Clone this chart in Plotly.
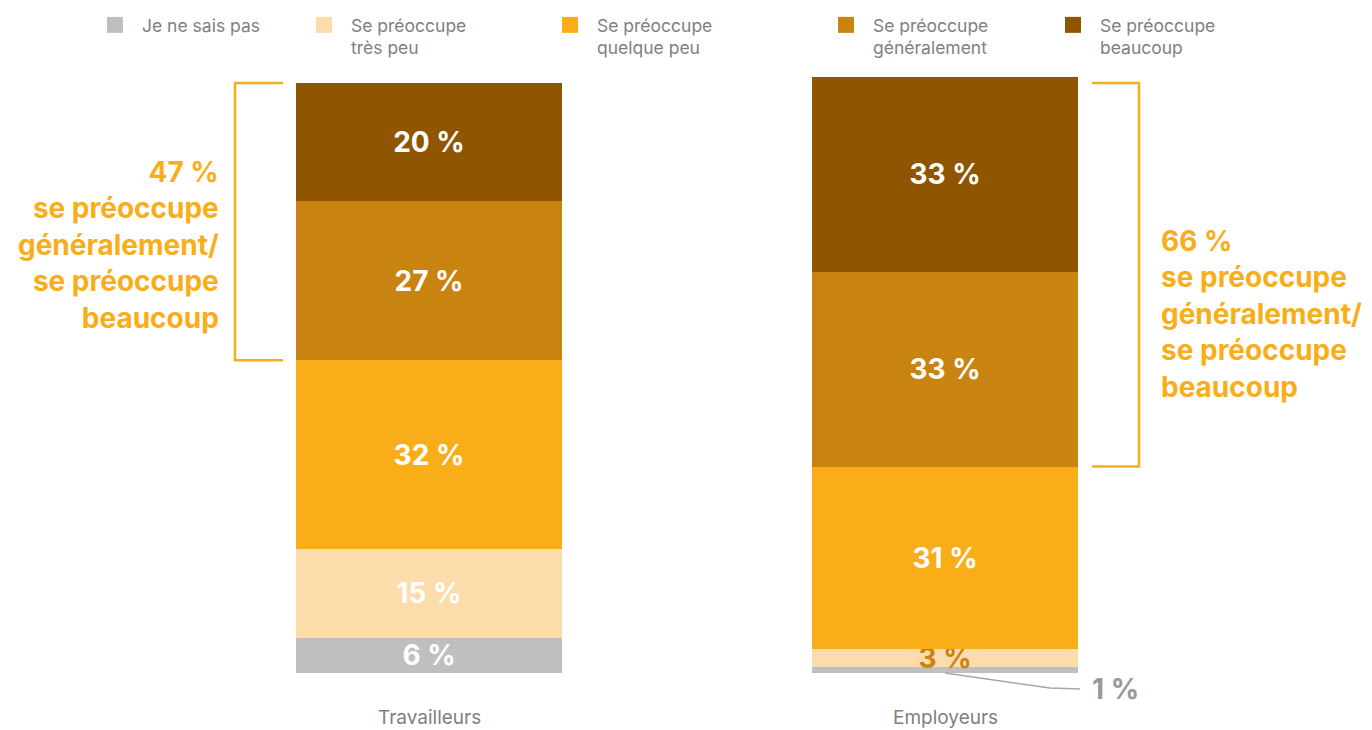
import plotly.graph_objects as go

categories = ["Travailleurs", "Employeurs"]
series_names = ["Je ne sais pas", "Se préoccupe<br>très peu", "Se préoccupe<br>quelque peu",
                "Se préoccupe<br>généralement", "Se préoccupe<br>beaucoup"]
ne_sais_pas = [6, 1]
tres_peu = [15, 3]
quelque_peu = [32, 31]
generalement = [27, 33]
beaucoup = [20, 33]
bracket_totals = ["47 %", "66 %"]

colors = ["#BFBFBF", "#FDDCAB", "#F9AE19", "#C98311", "#8F5500"]
series = [ne_sais_pas, tres_peu, quelque_peu, generalement, beaucoup]
text_colors = [["white", "white"], ["white", "#C98311"], ["white", "white"],
               ["white", "white"], ["white", "white"]]

FONT = "Inter"
ORANGE = "#F9AE19"
GREY = "#808080"

# pixel mapping helpers (figure 1372x730, no margins)
W, H = 1372, 730
PX_PER_X = 516.0
X0_PX = 429.0
Y0_PX = 673.0
PX_PER_Y = 5.9
xr = [(0 - X0_PX) / PX_PER_X, (W - X0_PX) / PX_PER_X]
yr = [(Y0_PX - H) / PX_PER_Y, (Y0_PX - 0) / PX_PER_Y]

# legend item left edges (pixels)
legend_x_px = [88, 297, 543, 819, 1046]
legend_ids = ["legend", "legend2", "legend3", "legend4", "legend5"]

xpos = [0, 1]
fig = go.Figure()
for name, vals, col, tcol, lid in zip(series_names, series, colors, text_colors, legend_ids):
    txt = [f"{v} %" for v in vals]
    if vals is ne_sais_pas:
        txt = [txt[0], ""]
    fig.add_trace(go.Bar(
        x=xpos, y=vals, name=name, marker=dict(color=col, line=dict(width=0)),
        width=0.514, text=txt, textposition="inside", insidetextanchor="middle",
        textangle=0, textfont=dict(family=FONT, size=28, color=tcol, weight="bold"),
        showlegend=False, hoverinfo="skip", cliponaxis=False))
    # legend proxy with bigger square
    fig.add_trace(go.Scatter(
        x=[None], y=[None], mode="markers", name=name, legend=lid,
        marker=dict(symbol="square", size=19, color=col), showlegend=True))

# brackets
bottom_t = ne_sais_pas[0] + tres_peu[0] + quelque_peu[0]
top_t = bottom_t + generalement[0] + beaucoup[0]
bottom_e = ne_sais_pas[1] + tres_peu[1] + quelque_peu[1]
top_e = 100
lx, lt = (235 - X0_PX) / PX_PER_X, (283 - X0_PX) / PX_PER_X
rx, rt = 1 + (1139 - 945) / PX_PER_X, 1 + (1092 - 945) / PX_PER_X
for path in [
    f"M {lt} {top_t} L {lx} {top_t} L {lx} {bottom_t} L {lt} {bottom_t}",
    f"M {rt} {top_e} L {rx} {top_e} L {rx} {bottom_e} L {rt} {bottom_e}",
]:
    fig.add_shape(type="path", path=path, xref="x", yref="y",
                  line=dict(color=ORANGE, width=2.5))

label_txt = "se préoccupe<br>généralement/<br>se préoccupe<br>beaucoup"
fig.add_annotation(x=(221 - X0_PX) / PX_PER_X, y=(Y0_PX - 245) / PX_PER_Y,
                   text=f"{bracket_totals[0]}<br>{label_txt}", showarrow=False,
                   xanchor="right", yanchor="middle", align="right",
                   font=dict(family=FONT, size=28, color=ORANGE, weight="bold"))
fig.add_annotation(x=1 + (1159 - 945) / PX_PER_X, y=(Y0_PX - 314) / PX_PER_Y,
                   text=f"{bracket_totals[1]}<br>{label_txt}", showarrow=False,
                   xanchor="left", yanchor="middle", align="left",
                   font=dict(family=FONT, size=28, color=ORANGE, weight="bold"))

# 1 % callout
end_x = 1 + (1080 - 945) / PX_PER_X
end_y = (Y0_PX - 689) / PX_PER_Y
fig.add_shape(type="path",
              path=f"M 1 0 L {1 + (1050 - 945) / PX_PER_X} {(Y0_PX - 688) / PX_PER_Y} L {end_x} {end_y}",
              xref="x", yref="y", line=dict(color="#A6A6A6", width=1.5))
fig.add_annotation(x=end_x + 10 / PX_PER_X, y=end_y, text=f"{ne_sais_pas[1]} %",
                   showarrow=False, xanchor="left", yanchor="middle",
                   font=dict(family=FONT, size=28, color="#999999", weight="bold"))

# category labels
for xp, cat in zip(xpos, categories):
    fig.add_annotation(x=xp, y=(Y0_PX - 717) / PX_PER_Y, text=cat, showarrow=False,
                       xanchor="center", yanchor="middle",
                       font=dict(family=FONT, size=19, color=GREY))

legend_common = dict(orientation="h", yanchor="top", xanchor="left", y=1 - 7 / H,
                     valign="top", itemwidth=44,
                     font=dict(family=FONT, size=17.5, color=GREY),
                     bgcolor="rgba(0,0,0,0)")
legends = {lid: dict(legend_common, x=px / W) for lid, px in zip(legend_ids, legend_x_px)}

fig.update_layout(
    width=W, height=H, barmode="stack",
    margin=dict(l=0, r=0, t=0, b=0),
    paper_bgcolor="white", plot_bgcolor="white",
    xaxis=dict(range=xr, visible=False, fixedrange=True),
    yaxis=dict(range=yr, visible=False, fixedrange=True),
    uniformtext=dict(mode="show", minsize=28),
    showlegend=True,
    **legends,
)

fig.write_html("out.html", config={"displayModeBar": False},
               post_script="document.body.style.margin='0';document.body.style.overflow='hidden';")
